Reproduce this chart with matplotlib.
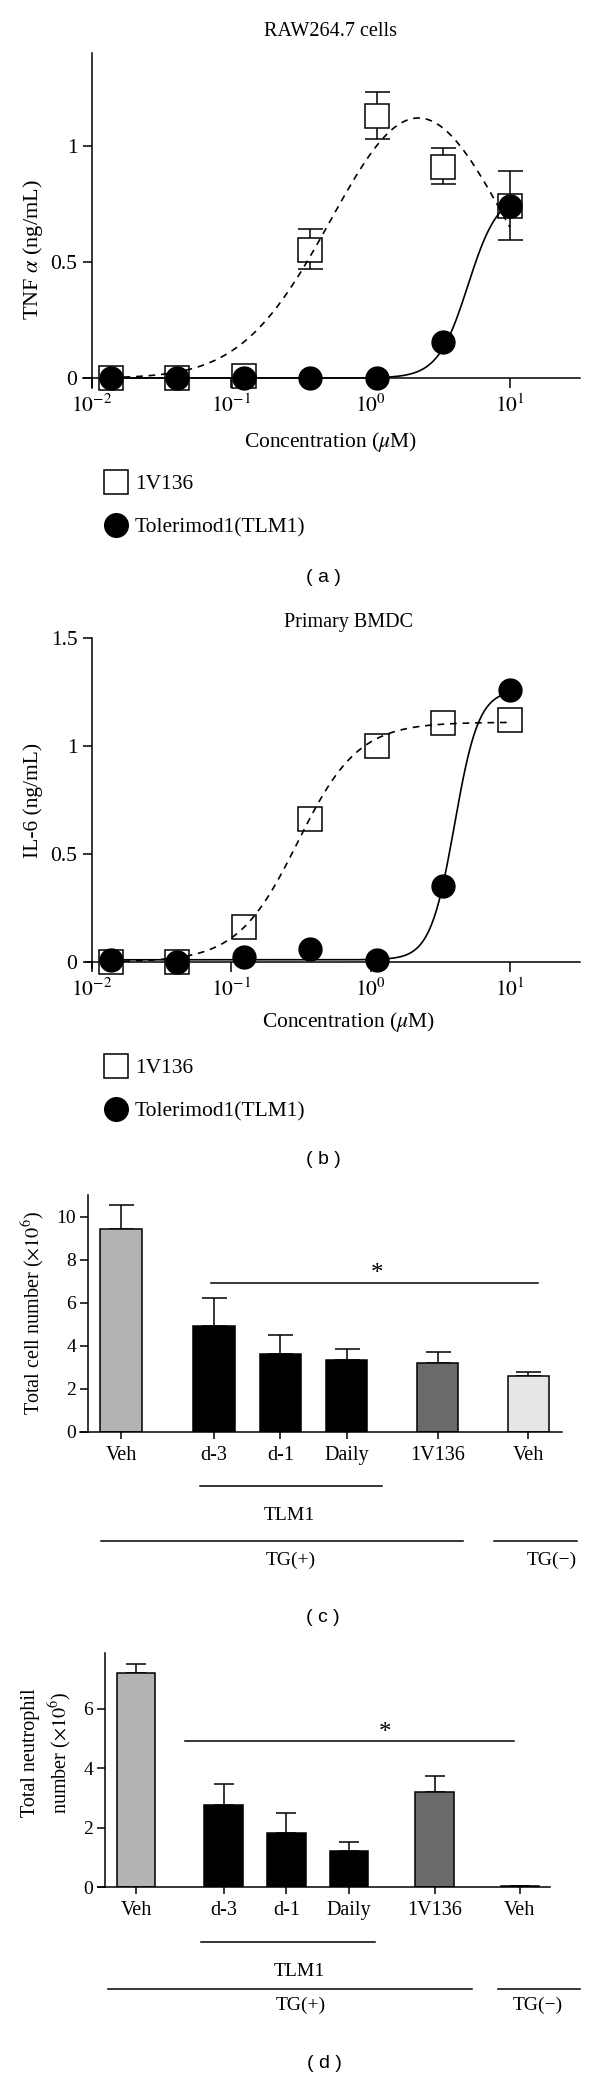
import numpy as np
import matplotlib
matplotlib.use('Agg')
import matplotlib.pyplot as plt
from matplotlib.lines import Line2D
from matplotlib.ticker import NullLocator

plt.rcParams['font.family'] = ['Liberation Serif', 'DejaVu Serif']
plt.rcParams['mathtext.fontset'] = 'stix'

W, H = 600, 2077

# ---- data ----
conc = [0.0137, 0.041, 0.123, 0.37, 1.11, 3.33, 10]

# (a) RAW264.7 cells, TNF alpha (ng/mL)
tnf_1v136 = [0, 0, 0.01, 0.55, 1.13, 0.91, 0.74]
tnf_1v136_lo = [0, 0, 0, 0.08, 0.10, 0.075, 0.145]
tnf_1v136_hi = [0, 0, 0, 0.09, 0.10, 0.08, 0.15]
tnf_tlm1 = [0, 0, 0, 0, 0, 0.155, 0.74]

# (b) primary BMDC, IL-6 (ng/mL)
il6_1v136 = [0, 0, 0.16, 0.66, 1.0, 1.105, 1.12]
il6_tlm1 = [0.008, 0, 0.022, 0.062, 0.01, 0.35, 1.257]

# fitted curve parameters
tnf_1v136_fit = dict(peak=1.12, center=2.2, width=0.63)
tnf_tlm1_fit = dict(bottom=0, top=0.8, ec50=5.0, hill=4)
il6_1v136_fit = dict(bottom=0, top=1.11, ec50=0.3, hill=2)
il6_tlm1_fit = dict(bottom=0.01, top=1.26, ec50=4.0, hill=5)

# (c), (d) bar charts
groups = ['Veh', 'd-3', 'd-1', 'Daily', '1V136', 'Veh']
bar_colors = ['#b3b3b3', '#000000', '#000000', '#000000', '#6a6a6a', '#e6e6e6']
cells = [9.4, 4.93, 3.63, 3.35, 3.2, 2.6]
cells_err = [1.15, 1.3, 0.87, 0.51, 0.52, 0.19]
neut = [7.2, 2.76, 1.82, 1.21, 3.2, 0.02]
neut_err = [0.3, 0.71, 0.67, 0.31, 0.54, 0]

x_pos = [0, 1.4, 2.4, 3.4, 4.77, 6.13]


def hill(x, bottom, top, ec50, hill):
    return bottom + (top - bottom) / (1 + (ec50 / x) ** hill)


def bell(x, peak, center, width):
    return peak * np.exp(-(np.log10(x) - np.log10(center)) ** 2 / (2 * width ** 2))


fig = plt.figure(figsize=(W / 100, H / 100), dpi=100)


def px_axes(l, t, r, b):
    return fig.add_axes([l / W, 1 - b / H, (r - l) / W, (b - t) / H])


def ftext(x, y, s, **kw):
    kw.setdefault('ha', 'center')
    kw.setdefault('va', 'center')
    fig.text(x / W, 1 - y / H, s, **kw)


def fline(x0, x1, y):
    fig.add_artist(Line2D([x0 / W, x1 / W], [1 - y / H] * 2,
                          transform=fig.transFigure, color='k', lw=1.1))


def style(ax):
    for s in ['top', 'right']:
        ax.spines[s].set_visible(False)
    for s in ['left', 'bottom']:
        ax.spines[s].set_linewidth(1.1)


def dose_panel(ax, xleft, ylim, yticks, ylabels, sq, sq_err, circ, fit_sq, fit_circ, bellfit):
    style(ax)
    ax.set_xscale('log')
    ax.set_xlim(10 ** xleft, 10 ** 1.503)
    ax.set_ylim(*ylim)
    ax.spines['left'].set_position(('data', 0.01))
    ax.spines['bottom'].set_position(('data', 0))
    ax.set_xticks([0.01, 0.1, 1, 10])
    ax.set_xticklabels(['$10^{-2}$', '$10^{-1}$', '$10^{0}$', '$10^{1}$'])
    ax.xaxis.set_minor_locator(NullLocator())
    ax.set_yticks(yticks)
    ax.set_yticklabels(ylabels)
    ax.tick_params(axis='x', direction='out', length=7, width=1.1, labelsize=15.5, pad=5)
    ax.tick_params(axis='y', direction='out', length=6.5, width=1.1, labelsize=15.5, pad=4)

    xs = np.logspace(np.log10(conc[0]), np.log10(conc[-1]), 300)
    if sq_err is not None:
        ax.errorbar(conc, sq, yerr=sq_err, fmt='none', ecolor='k', elinewidth=1.1,
                    capsize=9, capthick=1.1, zorder=2, clip_on=False)
    ax.plot(conc, sq, 's', ms=17.5, mfc='white', mec='k', mew=1.1, zorder=3, clip_on=False)
    ys = bell(xs, **fit_sq) if bellfit else hill(xs, **fit_sq)
    ax.plot(xs, ys, color='k', lw=1.2, ls=(0, (4, 3.5)), zorder=4)
    ax.plot(conc, circ, 'o', ms=16.5, color='k', zorder=5, clip_on=False)
    ax.plot(xs, hill(xs, **fit_circ), color='k', lw=1.2, zorder=6)


def legend_at(y0):
    h = [Line2D([], [], marker='s', ls='none', ms=17.5, mfc='white', mec='k', mew=1.1),
         Line2D([], [], marker='o', ls='none', ms=17, color='k')]
    fig.legend(h, ['1V136', 'Tolerimod1(TLM1)'], loc='center left',
               bbox_to_anchor=(92 / W, 1 - y0 / H), frameon=False, borderpad=0,
               handlelength=1.2, handletextpad=0.3, labelspacing=1.1, fontsize=15.5)


# ---- (a) ----
ax = px_axes(83, 53, 580, 388)
dose_panel(ax, -2.065, (-0.043, 1.40), [0, 0.5, 1], ['0', '0.5', '1'],
           tnf_1v136, [tnf_1v136_lo, tnf_1v136_hi], tnf_tlm1,
           tnf_1v136_fit, tnf_tlm1_fit, True)
ftext(331, 32, 'RAW264.7 cells', fontsize=14.5)
ftext(33, 250, r'TNF $\alpha$ (ng/mL)', fontsize=16, rotation=90)
ftext(331, 442, r'Concentration ($\mu$M)', fontsize=15.5)
legend_at(506)
ftext(323, 577, '( a )', fontsize=14, family='Liberation Sans')

# ---- (b) ----
ax = px_axes(86, 638, 580, 968)
dose_panel(ax, -2.043, (-0.028, 1.5), [0, 0.5, 1, 1.5], ['0', '0.5', '1', '1.5'],
           il6_1v136, None, il6_tlm1, il6_1v136_fit, il6_tlm1_fit, False)
ftext(349, 623, 'Primary BMDC', fontsize=14.5)
ftext(33, 800, 'IL-6 (ng/mL)', fontsize=15.5, rotation=90)
ftext(349, 1022, r'Concentration ($\mu$M)', fontsize=15.5)
legend_at(1090)
ftext(323, 1160, '( b )', fontsize=14, family='Liberation Sans')


# ---- bar panels ----
def bar_panel(ax, vals, errs, xlim, yaxis_x, ylim, yticks, capsize):
    style(ax)
    ax.bar(x_pos, vals, width=0.62, color=bar_colors, edgecolor='k', linewidth=1.1, zorder=2)
    ax.errorbar(x_pos, vals, yerr=[np.zeros(len(vals)), errs], fmt='none', ecolor='k',
                elinewidth=1.1, capsize=capsize, capthick=1.1, zorder=1)
    ax.set_xlim(*xlim)
    ax.set_ylim(*ylim)
    ax.spines['left'].set_position(('data', yaxis_x))
    ax.set_yticks(yticks)
    ax.set_xticks(x_pos)
    ax.set_xticklabels(groups)
    ax.tick_params(axis='x', direction='out', length=5, width=1.1, labelsize=14.5, pad=5)
    ax.tick_params(axis='y', direction='out', length=5.5, width=1.1, labelsize=14, pad=3)


# (c)
ax = px_axes(80, 1195, 562, 1432)
bar_panel(ax, cells, cells_err, (-0.617, 6.64), -0.497, (0, 11), range(0, 11, 2), 9)
ax.plot([1.36, 6.28], [6.93, 6.93], color='k', lw=1.1)
ax.text(3.86, 7.05, '*', ha='center', va='baseline', fontsize=18)
ftext(33, 1313, r'Total cell number ($\times 10^6$)', fontsize=14.5, rotation=90)
fline(200, 382, 1486)
ftext(289, 1516, 'TLM1', fontsize=14)
fline(101, 463, 1541)
fline(494, 577, 1541)
ftext(291, 1560, 'TG(+)', fontsize=14)
ftext(552, 1560, 'TG(\u2212)', fontsize=14)
ftext(323, 1618, '( c )', fontsize=14, family='Liberation Sans')

# (d)
ax = px_axes(98, 1653, 550, 1887)
bar_panel(ax, neut, neut_err, (-0.607, 6.61), -0.495, (0, 7.88), [0, 2, 4, 6], 7)
ax.plot([0.78, 6.04], [4.9, 4.9], color='k', lw=1.1)
ax.text(3.98, 5.0, '*', ha='center', va='baseline', fontsize=18)
ftext(31, 1753, 'Total neutrophil', fontsize=14.5, rotation=90)
ftext(60, 1753, r'number ($\times 10^6$)', fontsize=14.5, rotation=90)
fline(201, 375, 1942)
ftext(299, 1972, 'TLM1', fontsize=14)
fline(108, 472, 1989)
fline(498, 580, 1989)
ftext(301, 2005, 'TG(+)', fontsize=14)
ftext(538, 2005, 'TG(\u2212)', fontsize=14)
ftext(324, 2063, '( d )', fontsize=14, family='Liberation Sans')

fig.savefig('out.png', dpi=100)
